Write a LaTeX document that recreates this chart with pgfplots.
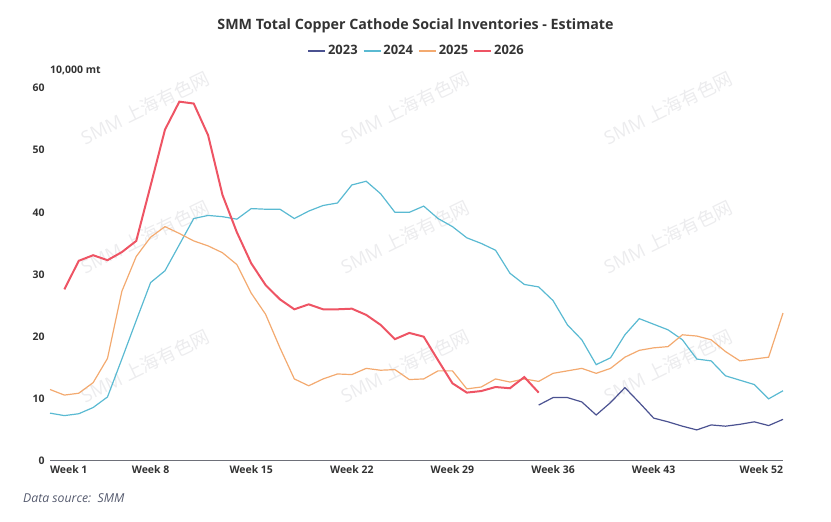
\documentclass[border=0pt]{standalone}
\usepackage{pgfplots}
\pgfplotsset{compat=1.18}
\usepackage{fontspec}
\setmainfont{Open Sans}
\newfontfamily\cjk{Noto Sans CJK SC}
\definecolor{cA}{RGB}{75,82,145}
\definecolor{cB}{RGB}{90,186,210}
\definecolor{cC}{RGB}{243,170,112}
\definecolor{cD}{RGB}{238,84,100}
\definecolor{axgray}{RGB}{110,112,121}
\definecolor{tick}{RGB}{51,51,51}
\definecolor{src}{RGB}{85,90,110}
\definecolor{wm}{RGB}{236,236,238}

\pgfplotstableread{
w v
35 9.0
36 10.2
37 10.2
38 9.5
39 7.4
40 9.4
41 11.8
42 9.4
43 6.9
44 6.3
45 5.6
46 5.0
47 5.8
48 5.6
49 5.9
50 6.3
51 5.7
52 6.7
}\dA

\pgfplotstableread{
w v
1 7.7
2 7.3
3 7.6
4 8.6
5 10.3
6 16.4
7 22.6
8 28.7
9 30.6
10 34.8
11 39.0
12 39.5
13 39.3
14 38.9
15 40.6
16 40.5
17 40.5
18 39.0
19 40.2
20 41.1
21 41.5
22 44.4
23 45.0
24 43.0
25 40.0
26 40.0
27 41.0
28 39.0
29 37.7
30 35.9
31 35.0
32 33.9
33 30.2
34 28.4
35 28.0
36 25.8
37 21.9
38 19.5
39 15.5
40 16.6
41 20.3
42 22.9
43 22.0
44 21.1
45 19.5
46 16.4
47 16.1
48 13.7
49 13.0
50 12.3
51 10.0
52 11.3
}\dB

\pgfplotstableread{
w v
1 11.5
2 10.6
3 10.9
4 12.6
5 16.5
6 27.3
7 32.9
8 36.0
9 37.7
10 36.6
11 35.4
12 34.6
13 33.5
14 31.6
15 27.0
16 23.6
17 18.2
18 13.2
19 12.1
20 13.2
21 14.0
22 13.9
23 14.9
24 14.6
25 14.7
26 13.1
27 13.2
28 14.5
29 14.5
30 11.6
31 11.9
32 13.2
33 12.7
34 13.2
35 12.8
36 14.1
37 14.5
38 14.9
39 14.1
40 14.9
41 16.7
42 17.8
43 18.2
44 18.4
45 20.3
46 20.1
47 19.5
48 17.6
49 16.1
50 16.4
51 16.7
52 23.8
}\dC

\pgfplotstableread{
w v
2 27.6
3 32.2
4 33.1
5 32.3
6 33.6
7 35.4
8 44.3
9 53.3
10 57.8
11 57.5
12 52.4
13 42.8
14 36.8
15 31.8
16 28.3
17 26.0
18 24.4
19 25.2
20 24.4
21 24.4
22 24.5
23 23.5
24 21.9
25 19.6
26 20.6
27 20.0
28 16.2
29 12.5
30 11.0
31 11.25
32 11.9
33 11.7
34 13.5
35 11.0
}\dD

\begin{document}
\begin{tikzpicture}[x=1bp,y=1bp]
\useasboundingbox (0,0) rectangle (831,522);
\foreach \px/\py in {145/108,405/108,668/108,145/237,405/237,668/237,145/366,405/366,668/366}{
  \node[rotate=26,text=wm,font=\fontsize{18.5}{18.5}\selectfont] at (\px,522-\py) {SMM {\cjk 上海有色网}};
}
\node[font=\fontsize{14.3}{16}\selectfont\bfseries,text=tick] at (415.5,522-26) {SMM Total Copper Cathode Social Inventories - Estimate};
\node[anchor=west,font=\fontsize{10.5}{12}\selectfont\bfseries,text=tick,inner sep=0] at (50,522-70) {10,000 mt};
\node[anchor=west,font=\fontsize{12.3}{14}\selectfont\itshape,text=src,inner sep=0] at (23,522-498.5) {Data source:\ \ SMM};
\begin{axis}[
  at={(50bp,61bp)}, anchor=south west,
  scale only axis, width=733bp, height=373bp,
  xmin=1, xmax=52, ymin=0, ymax=60,
  axis lines*=left,
  axis line style={-},
  x axis line style={draw=axgray, line width=1bp},
  y axis line style={draw=none},
  major tick length=0pt,
  clip=false,
  ytick={0,10,20,30,40,50,60},
  xtick={1,8,15,22,29,36,43,52},
  xticklabels={{\makebox[0pt][l]{Week 1}},Week 8,Week 15,Week 22,Week 29,Week 36,Week 43,{\makebox[0pt][r]{Week 52}}},
  /pgf/number format/assume math mode=true,
  tick label style={font=\fontsize{10.5}{12}\selectfont\bfseries, text=tick},
  yticklabel style={anchor=east, xshift=-2bp},
  xticklabel style={anchor=north, yshift=-1bp},
  legend style={at={(0.5,1)}, anchor=center, yshift=37bp, draw=none, fill=none,
    font=\fontsize{13}{15}\selectfont\bfseries, text=tick,
    legend columns=-1, /tikz/every even column/.append style={column sep=3bp}},
  legend image code/.code={\draw[#1, line width=1.8bp] (0bp,0bp) -- (17bp,0bp);},
]
\addplot[cA, line width=1.2bp] table[x=w,y=v] {\dA};
\addlegendentry{2023}
\addplot[cB, line width=1.2bp] table[x=w,y=v] {\dB};
\addlegendentry{2024}
\addplot[cC, line width=1.2bp] table[x=w,y=v] {\dC};
\addlegendentry{2025}
\addplot[cD, line width=2bp] table[x=w,y=v] {\dD};
\addlegendentry{2026}
\end{axis}
\end{tikzpicture}
\end{document}
